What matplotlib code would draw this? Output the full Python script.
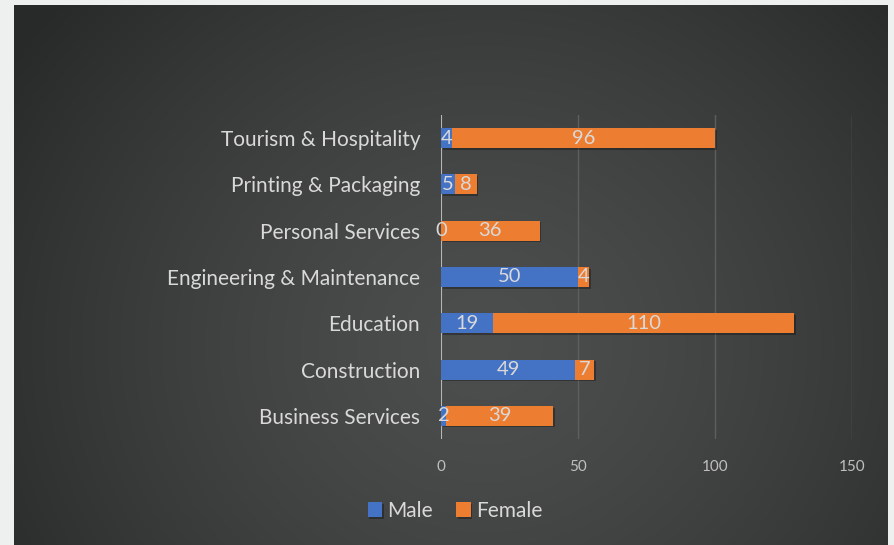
import numpy as np
import matplotlib.pyplot as plt
import matplotlib.patheffects as pe

categories = ['Tourism & Hospitality', 'Printing & Packaging', 'Personal Services',
              'Engineering & Maintenance', 'Education', 'Construction', 'Business Services']
male = [4, 5, 0, 50, 19, 49, 2]
female = [96, 8, 36, 4, 110, 7, 39]
xticks = [0, 50, 100, 150]

W, H = 894, 545
fig = plt.figure(figsize=(W / 100, H / 100), dpi=100)
fig.patch.set_facecolor('#eef0ef')

# dark panel with soft radial gradient
bg = fig.add_axes([14 / W, 0, 874 / W, 540 / H])
bg.set_axis_off()
yy, xx = np.mgrid[0:540, 0:874]
r = np.sqrt(((xx - 470) / 560.0) ** 2 + ((yy - 340) / 520.0) ** 2)
r = np.clip(r, 0, 1)
val = 0.30 - 0.14 * r ** 1.4
img = np.dstack([val, val + 0.006, val + 0.006])
bg.imshow(img, aspect='auto', extent=[0, 1, 0, 1], interpolation='bilinear')
bg.set_xlim(0, 1)
bg.set_ylim(0, 1)

ax = fig.add_axes([441 / W, 1 - 439 / H, (852 - 441) / W, (439 - 115) / H])
ax.patch.set_alpha(0)
y = np.arange(len(categories))

shadow = [pe.SimplePatchShadow(offset=(1.2, -1.2), shadow_rgbFace='black', alpha=0.3), pe.Normal()]
mb = ax.barh(y, male, height=0.43, color='#4472c4', path_effects=shadow, zorder=3)
fb = ax.barh(y, female, left=male, height=0.43, color='#ed7d31', path_effects=shadow, zorder=3)

font = 'Lato'
for i in range(len(categories)):
    ax.text(male[i] / 2, y[i], str(male[i]), ha='center', va='center', color='#d9d9d9',
            fontsize=14.5, family=font, zorder=4)
    ax.text(male[i] + female[i] / 2, y[i], str(female[i]), ha='center', va='center',
            color='#d9d9d9', fontsize=14.5, family=font, zorder=4)

ax.set_xlim(0, 150)
ax.set_ylim(len(categories) - 0.5, -0.5)
ax.set_xticks(xticks)
ax.set_xticklabels([str(t) for t in xticks], color='#bfbfbf', fontsize=11, family=font)
ax.set_yticks(y)
ax.set_yticklabels(categories, color='#d9d9d9', fontsize=15, family=font)
ax.tick_params(length=0, pad=15, axis='x')
ax.tick_params(length=0, pad=15, axis='y')
for s in ax.spines.values():
    s.set_visible(False)
ax.grid(axis='x', color='#5e5e5e', linewidth=1, zorder=1)
ax.axvline(0, color='#c8c8c8', linewidth=1.2, zorder=2)

leg = fig.legend([mb, fb], ['Male', 'Female'], loc='center', bbox_to_anchor=(455 / W, 1 - 511 / H),
                 ncol=2, frameon=False, handlelength=0.7, handleheight=0.7, handletextpad=0.25,
                 columnspacing=1.1, prop={'family': font, 'size': 15})
for t in leg.get_texts():
    t.set_color('#d9d9d9')

fig.savefig('out.png', dpi=100, facecolor=fig.get_facecolor())
